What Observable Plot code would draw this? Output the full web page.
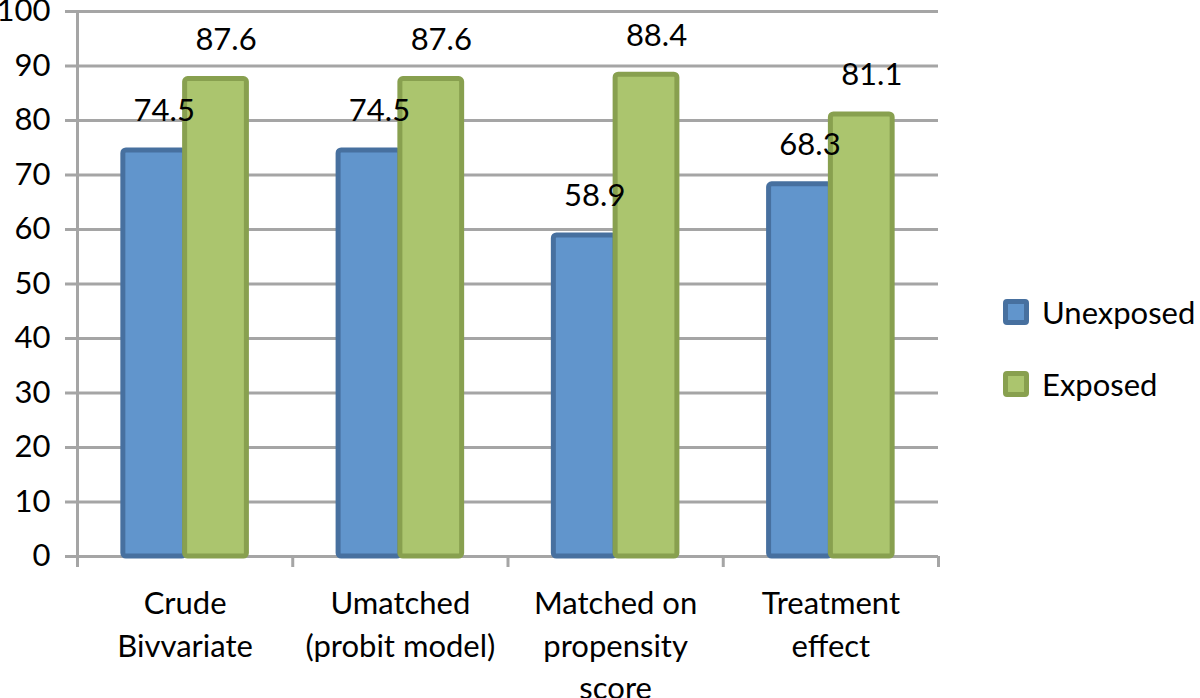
<!DOCTYPE html>
<html><head><meta charset="utf-8">
<script src="https://cdn.jsdelivr.net/npm/d3@7"></script>
<script src="https://cdn.jsdelivr.net/npm/@observablehq/plot@0.6"></script>
<style>
  body { margin: 0; background: #fff; font-family: Lato, "Open Sans", sans-serif; }
  #wrap { position: relative; width: 1200px; height: 698px; overflow: hidden; }
  #chart { position: absolute; left: 0; top: 0; }
  .legend { position: absolute; left: 1003px; top: 0; }
  .item { position: absolute; left: 0; display: flex; align-items: center; white-space: nowrap; font-size: 31px; color: #000; }
  .sw { width: 26px; height: 26px; box-sizing: border-box; border: 5px solid; border-radius: 4px; margin-right: 13px; }
</style>
</head><body>
<div id="wrap"><div id="chart"></div><div class="legend" id="legend"></div></div>
<script>
// ---- data ----
const categories = ["Crude\nBivvariate", "Umatched\n(probit model)", "Matched on\npropensity\nscore", "Treatment\neffect"];
const series = ["Unexposed", "Exposed"];
const unexposed = [74.5, 74.5, 58.9, 68.3];
const exposed = [87.6, 87.6, 88.4, 81.1];
const yTicks = [0, 10, 20, 30, 40, 50, 60, 70, 80, 90, 100];

// ---- styles ----
const fills = {Unexposed: "#6195cc", Exposed: "#abc56e"};
const strokes = {Unexposed: "#47709f", Exposed: "#88a04f"};
const grid = "#a5a5a5";
const groupOffset = 0.213, barWidth = 0.287; // fractions of a category slot

const values = {Unexposed: unexposed, Exposed: exposed};
const rows = series.flatMap((s, si) => categories.map((c, i) => {
  const x1 = i + groupOffset + si * barWidth;
  return {category: c, series: s, value: values[s][i], x1, x2: x1 + barWidth};
}));

const barMark = s => Plot.rect(rows.filter(d => d.series === s), {
  x1: "x1", x2: "x2", y1: 0, y2: "value",
  fill: fills[s], stroke: strokes[s], strokeWidth: 5, rx: 3
});
const labelMark = s => Plot.text(rows.filter(d => d.series === s), {
  x: d => (d.x1 + d.x2) / 2, y: "value", text: d => d.value.toFixed(1),
  dx: 10, dy: -39, fontSize: 31, fill: "#000"
});

const plot = Plot.plot({
  width: 950, height: 698,
  marginLeft: 77, marginRight: 12, marginTop: 11, marginBottom: 142,
  style: {fontFamily: "Lato, 'Open Sans', sans-serif", fontSize: "31px", color: "#000", background: "transparent"},
  x: {domain: [0, categories.length], label: null},
  y: {domain: [0, 100], label: null},
  marks: [
    Plot.gridY({ticks: yTicks, stroke: grid, strokeOpacity: 1, strokeWidth: 3}),
    Plot.axisY({ticks: yTicks, tickSize: 12, tickPadding: 15, stroke: grid, strokeWidth: 3, fill: "#000", fontSize: 31, label: null}),
    Plot.frame({anchor: "left", stroke: grid, strokeWidth: 3}),
    Plot.axisX({ticks: d3.range(categories.length + 1), tickSize: 11, tickFormat: () => "", stroke: grid, strokeWidth: 3, label: null}),
    Plot.axisX({ticks: categories.map((_, i) => i + 0.5), tickFormat: v => categories[Math.floor(v)],
      tickSize: 0, tickPadding: 27, fontSize: 31, lineHeight: 1.38, fill: "#000", label: null}),
    ...series.map(barMark),
    ...series.map(labelMark)
  ]
});
document.getElementById("chart").append(plot);

// ---- legend ----
const legendTops = {Unexposed: 312, Exposed: 384};
const legend = document.getElementById("legend");
series.forEach(s => {
  const item = document.createElement("div");
  item.className = "item";
  item.style.top = (legendTops[s] - 20) + "px";
  item.style.height = "40px";
  const sw = document.createElement("span");
  sw.className = "sw";
  sw.style.background = fills[s];
  sw.style.borderColor = strokes[s];
  const t = document.createElement("span");
  t.textContent = s;
  item.append(sw, t);
  legend.append(item);
});
</script></body></html>
